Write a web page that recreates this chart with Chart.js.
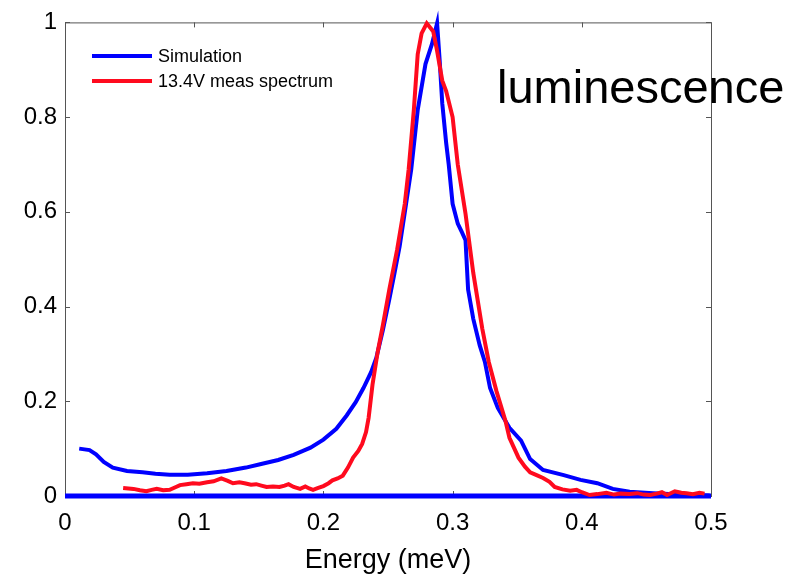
<!DOCTYPE html>
<html>
<head>
<meta charset="utf-8">
<script src="https://cdn.jsdelivr.net/npm/chart.js@4.4.1/dist/chart.umd.min.js"></script>
<style>
  html, body { margin: 0; padding: 0; background: #fff; }
  #plot { display: block; }
</style>
</head>
<body>
<canvas id="plot" width="806" height="577"></canvas>
<script>
// simulated spectrum (blue)
const simX = [0.011, 0.019, 0.024, 0.030, 0.037, 0.048, 0.060, 0.070, 0.081, 0.095,
  0.110, 0.125, 0.140, 0.151, 0.165, 0.177, 0.190, 0.200, 0.210, 0.218,
  0.225, 0.231, 0.237, 0.241, 0.246, 0.251, 0.255, 0.259, 0.264, 0.268,
  0.273, 0.279, 0.284, 0.288, 0.290, 0.292, 0.295, 0.297, 0.300, 0.304,
  0.307, 0.310, 0.312, 0.316, 0.321, 0.325, 0.329, 0.335, 0.344, 0.353,
  0.360, 0.370, 0.386, 0.399, 0.412, 0.424, 0.437, 0.455, 0.476, 0.499];
const simY = [0.100, 0.097, 0.088, 0.072, 0.060, 0.053, 0.050, 0.047, 0.045, 0.045,
  0.048, 0.053, 0.060, 0.067, 0.076, 0.087, 0.102, 0.119, 0.142, 0.170,
  0.198, 0.228, 0.262, 0.292, 0.350, 0.415, 0.470, 0.527, 0.617, 0.690,
  0.815, 0.912, 0.954, 0.998, 0.919, 0.829, 0.746, 0.700, 0.617, 0.575,
  0.558, 0.540, 0.436, 0.374, 0.318, 0.283, 0.228, 0.186, 0.144, 0.117,
  0.078, 0.055, 0.044, 0.034, 0.027, 0.015, 0.009, 0.006, 0.003, 0.001];

// measured spectrum at 13.4 V (red)
const measX = [0.045, 0.053, 0.058, 0.063, 0.067, 0.071, 0.076, 0.081, 0.085, 0.089,
  0.094, 0.099, 0.104, 0.110, 0.115, 0.121, 0.126, 0.130, 0.135, 0.139,
  0.144, 0.148, 0.152, 0.156, 0.161, 0.166, 0.170, 0.173, 0.177, 0.182,
  0.186, 0.189, 0.192, 0.196, 0.200, 0.204, 0.207, 0.211, 0.215, 0.219,
  0.223, 0.227, 0.230, 0.233, 0.235, 0.238, 0.242, 0.246, 0.251, 0.257,
  0.263, 0.266, 0.270, 0.273, 0.276, 0.280, 0.285, 0.288, 0.292, 0.295,
  0.300, 0.304, 0.310, 0.316, 0.323, 0.328, 0.334, 0.341, 0.344, 0.351,
  0.356, 0.360, 0.365, 0.370, 0.375, 0.379, 0.385, 0.391, 0.396, 0.400,
  0.406, 0.412, 0.419, 0.425, 0.430, 0.437, 0.443, 0.448, 0.453, 0.458,
  0.462, 0.466, 0.472, 0.477, 0.481, 0.486, 0.491, 0.495];
const measY = [0.017, 0.015, 0.012, 0.010, 0.013, 0.015, 0.012, 0.013, 0.018, 0.023,
  0.025, 0.027, 0.026, 0.029, 0.031, 0.037, 0.032, 0.027, 0.029, 0.027,
  0.024, 0.025, 0.022, 0.019, 0.020, 0.019, 0.022, 0.025, 0.019, 0.015,
  0.020, 0.016, 0.013, 0.017, 0.021, 0.027, 0.033, 0.037, 0.043, 0.060,
  0.081, 0.095, 0.110, 0.135, 0.165, 0.235, 0.304, 0.360, 0.436, 0.519,
  0.617, 0.690, 0.815, 0.933, 0.977, 0.998, 0.981, 0.940, 0.877, 0.855,
  0.800, 0.700, 0.596, 0.471, 0.353, 0.283, 0.221, 0.158, 0.123, 0.081,
  0.062, 0.050, 0.044, 0.038, 0.030, 0.019, 0.014, 0.011, 0.013, 0.008,
  0.002, 0.004, 0.007, 0.003, 0.005, 0.004, 0.006, 0.003, 0.002, 0.005,
  0.008, 0.002, 0.010, 0.007, 0.006, 0.004, 0.007, 0.005];

// flat simulation baseline drawn along zero
const baseX = [0, 0.5];
const baseY = [0, 0];

const xTicks = [0, 0.1, 0.2, 0.3, 0.4, 0.5];
const yTicks = [0, 0.2, 0.4, 0.6, 0.8, 1];

const BLUE = "#0000ff";
const RED = "#ff0a1e";
const FONT = "'Liberation Sans', Arial, sans-serif";

function toPoints(xs, ys) {
  return xs.map((x, i) => ({ x: x, y: ys[i] }));
}

// MATLAB style box with inward ticks on all four sides
const boxPlugin = {
  id: "box",
  beforeDatasetsDraw(chart) {
    const { ctx, chartArea: a, scales } = chart;
    ctx.save();
    ctx.strokeStyle = "#555";
    ctx.lineWidth = 1;
    ctx.strokeRect(a.left + 0.5, a.top + 0.5, a.right - a.left, a.bottom - a.top);
    ctx.beginPath();
    const len = 5;
    xTicks.forEach((v) => {
      const px = Math.round(scales.x.getPixelForValue(v)) + 0.5;
      ctx.moveTo(px, a.bottom); ctx.lineTo(px, a.bottom - len);
      ctx.moveTo(px, a.top); ctx.lineTo(px, a.top + len);
    });
    yTicks.forEach((v) => {
      const py = Math.round(scales.y.getPixelForValue(v)) + 0.5;
      ctx.moveTo(a.left, py); ctx.lineTo(a.left + len, py);
      ctx.moveTo(a.right, py); ctx.lineTo(a.right - len, py);
    });
    ctx.stroke();
    ctx.restore();
  },
  afterDraw(chart) {
    const ctx = chart.ctx;
    ctx.save();
    // legend in the upper left corner
    const items = chart.data.datasets.filter((d) => !d.hideInLegend);
    items.forEach((d, i) => {
      const y = 56 + i * 25;
      ctx.strokeStyle = d.borderColor;
      ctx.lineWidth = 4;
      ctx.beginPath();
      ctx.moveTo(92, y);
      ctx.lineTo(152, y);
      ctx.stroke();
      ctx.fillStyle = "#000";
      ctx.font = "18px " + FONT;
      ctx.textAlign = "left";
      ctx.textBaseline = "middle";
      ctx.fillText(d.label, 158, y + 1);
    });
    // annotation text
    ctx.fillStyle = "#000";
    ctx.font = "47px " + FONT;
    ctx.textAlign = "left";
    ctx.textBaseline = "alphabetic";
    ctx.fillText("luminescence", 497, 103);
    ctx.restore();
  },
};

new Chart(document.getElementById("plot"), {
  type: "line",
  data: {
    datasets: [
      {
        label: "Simulation",
        data: toPoints(simX, simY),
        borderColor: BLUE,
        borderWidth: 4,
        pointRadius: 0,
        tension: 0,
        clip: false,
        order: 2,
      },
      {
        label: "13.4V meas spectrum",
        data: toPoints(measX, measY),
        borderColor: RED,
        borderWidth: 4,
        pointRadius: 0,
        tension: 0,
        clip: false,
        order: 1,
      },
      {
        label: "baseline",
        hideInLegend: true,
        data: toPoints(baseX, baseY),
        borderColor: BLUE,
        borderWidth: 5,
        pointRadius: 0,
        clip: false,
        order: 3,
      },
    ],
  },
  options: {
    responsive: false,
    animation: false,
    layout: { padding: { top: 15, right: 95, left: 0, bottom: 0 } },
    plugins: { legend: { display: false }, tooltip: { enabled: false } },
    scales: {
      x: {
        type: "linear",
        min: 0,
        max: 0.5,
        afterFit: (s) => { s.height = 81; },
        afterBuildTicks: (s) => { s.ticks = xTicks.map((v) => ({ value: v })); },
        grid: { display: false, drawTicks: false },
        border: { display: false },
        ticks: {
          color: "#000",
          padding: 13,
          font: { family: FONT, size: 24 },
          callback: (v) => String(v),
        },
        title: {
          display: true,
          text: "Energy (meV)",
          color: "#000",
          font: { family: FONT, size: 27 },
          padding: { top: 0, bottom: 0 },
        },
      },
      y: {
        min: 0,
        max: 1,
        afterFit: (s) => { s.width = 65; },
        afterBuildTicks: (s) => { s.ticks = yTicks.map((v) => ({ value: v })); },
        grid: { display: false, drawTicks: false },
        border: { display: false },
        ticks: {
          color: "#000",
          padding: 8,
          font: { family: FONT, size: 24 },
          callback: (v) => String(v),
        },
      },
    },
  },
  plugins: [boxPlugin],
});
</script>
</body>
</html>
